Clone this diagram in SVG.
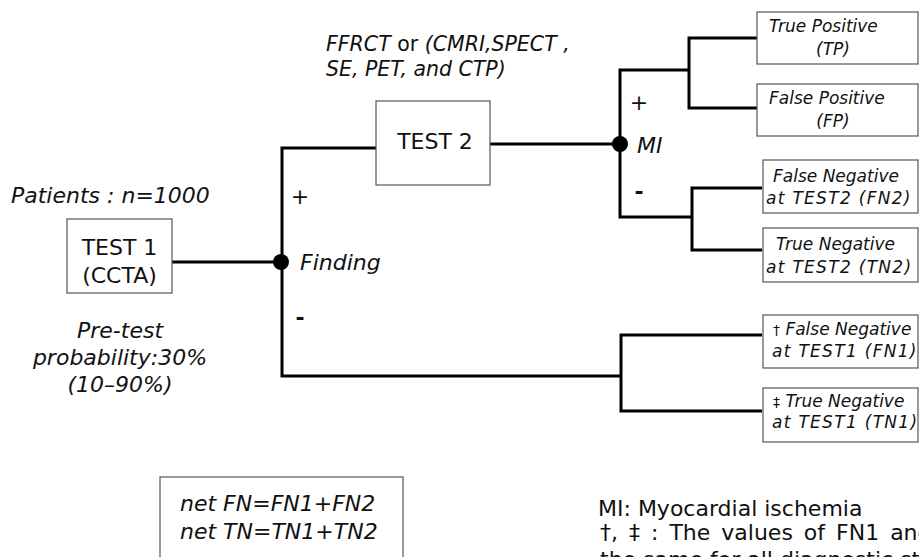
<svg xmlns="http://www.w3.org/2000/svg" width="919" height="557" viewBox="0 0 919 557">
<style>
text{font-family:"DejaVu Sans","Verdana",sans-serif;fill:#111}
.big{font-size:22px}
.mid{font-size:20.5px}
.it{font-style:italic}
.sm{font-size:17px;font-style:italic}
.wide{letter-spacing:1.3px}
.dash{font-weight:bold}
.box{fill:#fff;stroke:#555;stroke-width:1.2}
.ln{fill:none;stroke:#000;stroke-width:3}
</style>
<rect width="919" height="557" fill="#fff"/>
<g id="connectors">
<polyline class="ln" points="172,262 282,262"/>
<polyline class="ln" points="376,148 282,148 282,376 621,376"/>
<polyline class="ln" points="490,144 620,144"/>
<polyline class="ln" points="689,70 620,70 620,217 692,217"/>
<polyline class="ln" points="757,38 689,38 689,108 757,108"/>
<polyline class="ln" points="762,188 692,188 692,250 762,250"/>
<polyline class="ln" points="762,335 621,335 621,411 762,411"/>
<circle cx="281" cy="262" r="8" fill="#000"/>
<circle cx="620" cy="144" r="8" fill="#000"/>
</g>
<g id="test1">
<text class="big it" x="11" y="203">Patients : n=1000</text>
<rect class="box" x="67" y="219" width="105" height="74"/>
<text class="big" x="119.5" y="255" text-anchor="middle">TEST 1</text>
<text class="big" x="119.5" y="283" text-anchor="middle">(CCTA)</text>
<text class="big it" x="120" y="338" text-anchor="middle">Pre-test</text>
<text class="big it" x="120" y="365" text-anchor="middle">probability:30%</text>
<text class="big it" x="120" y="392" text-anchor="middle">(10–90%)</text>
</g>
<g id="finding">
<text class="big" x="300" y="204" text-anchor="middle">+</text>
<text class="big it" x="300" y="270">Finding</text>
<text class="big dash" x="300" y="325" text-anchor="middle">-</text>
</g>
<g id="test2">
<text class="mid" x="326" y="51"><tspan class="it">FFRCT</tspan> or <tspan class="it">(CMRI,SPECT ,</tspan></text>
<text class="mid it" x="326" y="76">SE, PET, and CTP)</text>
<rect class="box" x="376" y="101" width="114" height="84"/>
<text class="big" x="435" y="149" text-anchor="middle">TEST 2</text>
</g>
<g id="mi">
<text class="big" x="639" y="110" text-anchor="middle">+</text>
<text class="big it" x="637" y="153">MI</text>
<text class="big dash" x="639" y="199" text-anchor="middle">-</text>
</g>
<g id="tp">
<rect class="box" x="757" y="12" width="161" height="52"/>
<text class="sm" x="769" y="32">True Positive</text>
<text class="sm" x="833" y="55" text-anchor="middle">(TP)</text>
</g>
<g id="fp">
<rect class="box" x="757" y="84" width="161" height="52"/>
<text class="sm" x="769" y="104">False Positive</text>
<text class="sm" x="833" y="127" text-anchor="middle">(FP)</text>
</g>
<g id="fn2">
<rect class="box" x="763" y="160" width="155" height="53"/>
<text class="sm" x="773" y="182">False Negative</text>
<text class="sm wide" x="766" y="204">at TEST2 (FN2)</text>
</g>
<g id="tn2">
<rect class="box" x="763" y="228" width="155" height="54"/>
<text class="sm" x="776" y="250">True Negative</text>
<text class="sm wide" x="766" y="273">at TEST2 (TN2)</text>
</g>
<g id="fn1">
<rect class="box" x="763" y="315" width="155" height="53"/>
<text class="sm" x="773" y="335"><tspan font-style="normal" font-size="14">†</tspan> False Negative</text>
<text class="sm wide" x="772" y="357">at TEST1 (FN1)</text>
</g>
<g id="tn1">
<rect class="box" x="763" y="388" width="155" height="54"/>
<text class="sm" x="773" y="407"><tspan font-style="normal" font-size="14">‡</tspan> True Negative</text>
<text class="sm wide" x="772" y="428">at TEST1 (TN1)</text>
</g>
<g id="netbox">
<rect class="box" x="160" y="477" width="243" height="90"/>
<text class="big it" x="180" y="511">net FN=FN1+FN2</text>
<text class="big it" x="180" y="539">net TN=TN1+TN2</text>
</g>
<g id="legend">
<text class="big" x="598" y="516">MI: Myocardial ischemia</text>
<text class="big" x="600" y="540" word-spacing="4">†, ‡ : The values of FN1 and TN1 are</text>
<text class="big" x="600" y="567">the same for all diagnostic strategies.</text>
</g>
</svg>
